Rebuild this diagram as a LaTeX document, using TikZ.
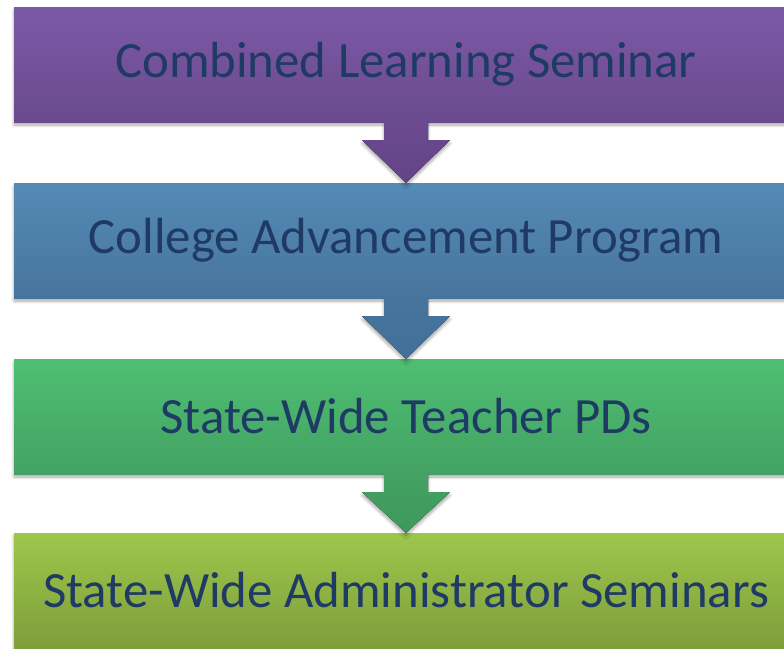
\documentclass[tikz,border=0pt]{standalone}
\usepackage{fontspec}
\setmainfont{Carlito}
\usetikzlibrary{calc,shadows.blur}
\definecolor{txt}{HTML}{1F3A64}
\definecolor{pTop}{HTML}{7C59A7}
\definecolor{pBot}{HTML}{6A4A8E}
\definecolor{bTop}{HTML}{548BB6}
\definecolor{bBot}{HTML}{47749C}
\definecolor{gTop}{HTML}{4FBE72}
\definecolor{gBot}{HTML}{43A263}
\definecolor{lTop}{HTML}{9EC64C}
\definecolor{lBot}{HTML}{7E9E3B}
\definecolor{aOneT}{HTML}{6B4A90}
\definecolor{aOneB}{HTML}{634486}
\definecolor{aTwoT}{HTML}{47749C}
\definecolor{aTwoB}{HTML}{43709A}
\definecolor{aThrT}{HTML}{43A263}
\definecolor{aThrB}{HTML}{3E985B}
\tikzset{
  stagebox/.style={rectangle, minimum width=784pt, minimum height=115pt, inner sep=0pt,
    text=txt, font=\fontsize{50.8}{60}\selectfont,
    blur shadow={shadow xshift=0pt, shadow yshift=-3pt, shadow blur steps=6, shadow blur radius=3pt, shadow opacity=35}},
  downarrow/.style={blur shadow={shadow xshift=0pt, shadow yshift=-3pt, shadow blur steps=6, shadow blur radius=3pt, shadow opacity=35}}
}
\begin{document}
\begin{tikzpicture}[x=1pt,y=-1pt]
\useasboundingbox (0,0) rectangle (784,648);
\clip (0,0) rectangle (784,648);
\node[stagebox, top color=pTop, bottom color=pBot] (b1) at (406,64.5) {Combined Learning Seminar};
\node[stagebox, top color=bTop, bottom color=bBot] (b2) at (406,240.5) {College Advancement Program};
\node[stagebox, top color=gTop, bottom color=gBot] (b3) at (406,416.5) {State-Wide Teacher PDs};
\node[stagebox, top color=lTop, bottom color=lBot] (b4) at (406,590.5) {State-Wide Administrator Seminars};
% arrows
\foreach \a/\b/\ct/\cb in {b1/b2/aOneT/aOneB, b2/b3/aTwoT/aTwoB, b3/b4/aThrT/aThrB}{
  \fill[downarrow, top color=\ct, bottom color=\cb]
    ($(\a.south)+(-22,0)$) -- ($(\a.south)+(-22,18)$) -- ($(\a.south)+(-44,18)$)
    -- (\b.north) -- ($(\a.south)+(44,18)$) -- ($(\a.south)+(22,18)$) -- ($(\a.south)+(22,0)$) -- cycle;
}
\end{tikzpicture}
\end{document}
